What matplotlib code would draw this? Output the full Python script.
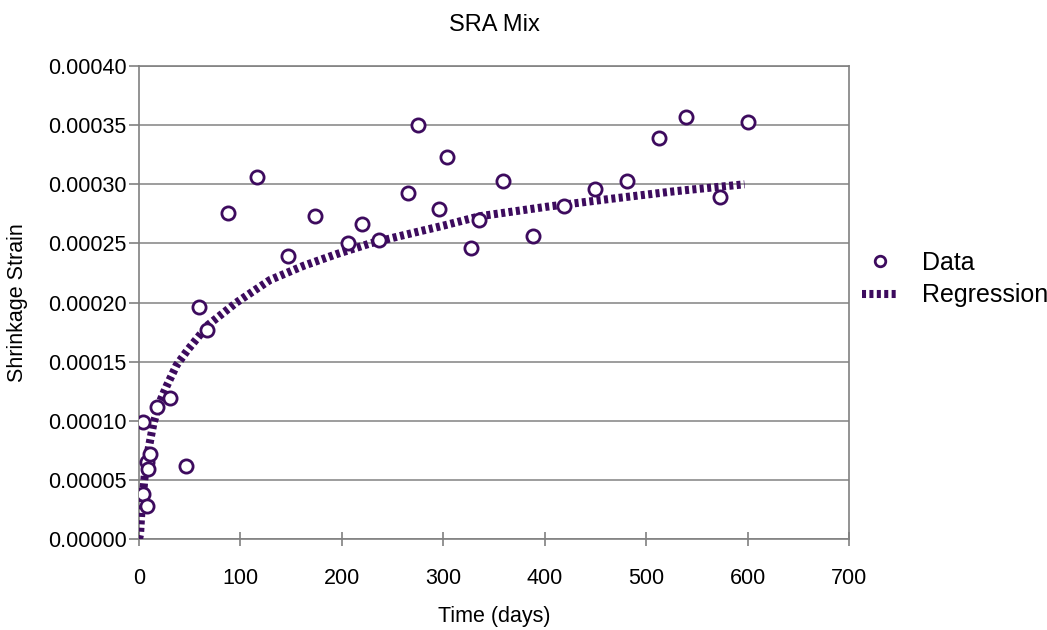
import numpy as np
import matplotlib
matplotlib.use("Agg")
import matplotlib.pyplot as plt

plt.rcParams['font.family'] = ['Liberation Sans', 'DejaVu Sans']

# Measured shrinkage strain (SRA mix)
days = [4, 4, 7.5, 7.5, 9, 11, 18, 31, 46, 59.5, 67, 88, 116, 147, 173, 206,
        220, 237, 265, 275, 296, 304, 327, 335, 359, 388, 419, 450, 481, 513,
        539, 573, 600]
strain = [0.000099, 0.000038, 0.000028, 0.000065, 0.000059, 0.000072, 0.000112,
          0.000119, 0.000062, 0.000196, 0.000177, 0.000276, 0.000306, 0.000239,
          0.000273, 0.000250, 0.000266, 0.000253, 0.000293, 0.000350, 0.000279,
          0.000323, 0.000246, 0.000270, 0.000303, 0.000256, 0.000282, 0.000296,
          0.000303, 0.000339, 0.000357, 0.000289, 0.000353]

# Fitted regression curve
reg_days = [0, 1, 2, 4, 6, 10, 14, 20, 27, 37, 48, 68, 96, 129, 162, 195, 228,
            261, 300, 336, 402, 468, 527, 597]
reg_strain = [0, 0.000004, 0.000019, 0.000039, 0.000057, 0.000079, 0.000097,
              0.000115, 0.000129, 0.000147, 0.000160, 0.000181, 0.000200,
              0.000219, 0.000231, 0.000241, 0.000250, 0.000257, 0.000265,
              0.000273, 0.000281, 0.000288, 0.000294, 0.000300]

purple = '#3d0b5e'

fig = plt.figure(figsize=(10.47, 6.30), dpi=100)
fig.subplots_adjust(left=0.1328, right=0.8109, top=0.8952, bottom=0.1444)
ax = fig.add_subplot(111)

ax.plot(reg_days, reg_strain, color=purple, lw=5.8, linestyle=(0, (0.5, 0.42)),
        solid_capstyle='butt', dash_capstyle='butt', label='Regression', zorder=3)
ax.plot(days, strain, 'o', mfc='white', mec=purple, ms=9.5, mew=2.0,
        label='Data', zorder=4)

ax.set_xlim(0, 700)
ax.set_ylim(0, 0.0004)
ax.set_xticks(np.arange(0, 701, 100))
ax.set_yticks(np.arange(0, 0.00041, 0.00005))
ax.yaxis.set_major_formatter(matplotlib.ticker.FormatStrFormatter('%.5f'))

ax.grid(axis='y', color='#8c8c8c', lw=1.2)
ax.set_axisbelow(True)
for s in ax.spines.values():
    s.set_color('#808080')
    s.set_linewidth(1.2)
ax.tick_params(axis='y', direction='out', length=7, width=1.2, color='#808080',
               labelsize=15.5, pad=2)
ax.tick_params(axis='x', direction='inout', length=10, width=1.2, color='#808080',
               labelsize=15.5, pad=16)

ax.set_title('SRA Mix', fontsize=17, pad=25)
ax.set_xlabel('Time (days)', fontsize=15.5, labelpad=12)
ax.set_ylabel('Shrinkage Strain', fontsize=15.5, labelpad=14)

handles, labels = ax.get_legend_handles_labels()
ax.legend(handles[::-1], labels[::-1], loc='center left',
          bbox_to_anchor=(1.018, 0.55), frameon=False, fontsize=18,
          handlelength=1.45, handletextpad=0.95, labelspacing=0.35,
          borderpad=0, borderaxespad=0, markerscale=0.8)

fig.savefig('out.png', dpi=100)
